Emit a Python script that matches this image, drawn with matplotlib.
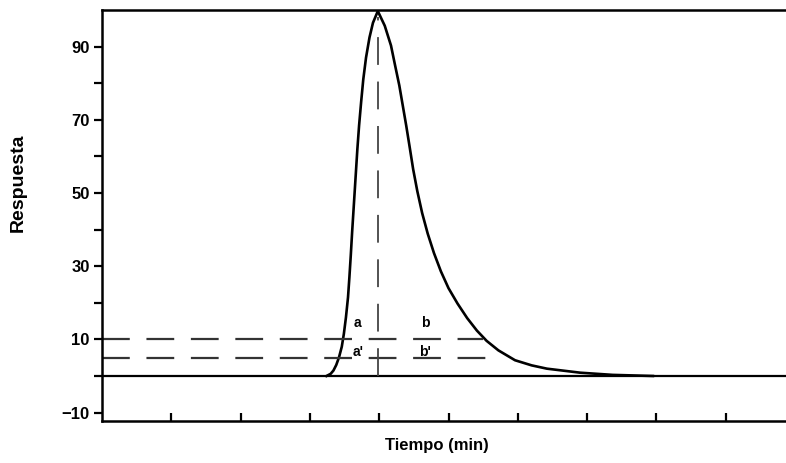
import matplotlib
matplotlib.use("Agg")
import matplotlib.pyplot as plt

plt.rcParams['font.family'] = ['Liberation Sans', 'DejaVu Sans']
plt.rcParams['font.weight'] = 'bold'
plt.rcParams['lines.scale_dashes'] = False

# peak (x in tick units, y in %)
tiempo = [3.24, 3.30, 3.34, 3.38, 3.42, 3.46, 3.49, 3.52, 3.55, 3.57, 3.59, 3.61,
          3.635, 3.66, 3.685, 3.71, 3.74, 3.77, 3.81, 3.86, 3.91, 3.98,
          4.08, 4.17, 4.23, 4.29, 4.34, 4.39, 4.44, 4.49, 4.55, 4.62, 4.70, 4.79,
          4.89, 5.00, 5.13, 5.27, 5.41, 5.55, 5.72, 5.96, 6.20, 6.42, 6.90, 7.37, 7.95]
respuesta = [0, 0.6, 1.5, 3.0, 5.1, 8.0, 11.5, 16.0, 21.5, 27.0, 33.0, 39.5,
             47.0, 54.5, 62.0, 68.5, 75.0, 81.0, 87.0, 92.5, 96.5, 99.7,
             95.7, 90.3, 84.8, 79.4, 73.9, 68.4, 62.5, 56.5, 50.5, 44.5, 38.9, 33.6,
             28.6, 24.0, 19.8, 15.8, 12.4, 9.6, 7.0, 4.3, 2.9, 2.0, 0.9, 0.3, 0]

t_max = 3.98
niveles = [10, 5]
fin_niveles = [5.50, 5.62]
etiquetas = [("a", 3.69, 14.5), ("b", 4.66, 14.5), ("a'", 3.69, 6.5), ("b'", 4.66, 6.5)]

x_ticks = [1, 2, 3, 4, 5, 6, 7, 8, 9]
y_major = [-10, 10, 30, 50, 70, 90]
y_minor = [0, 20, 40, 60, 80]

fig = plt.figure(figsize=(7.86, 4.63), dpi=100)
ax = fig.add_axes([102 / 786, 42 / 463, 684 / 786, 411 / 463])

ax.axhline(0, color='black', lw=1.6)
ax.plot(tiempo, respuesta, color='black', lw=1.9, solid_joinstyle='round')

for nivel, fin in zip(niveles, fin_niveles):
    ax.plot([0, fin], [nivel, nivel], color='#333333', lw=1.6, dashes=(20, 12))
ax.plot([t_max, t_max], [0, 98], color='#444444', lw=1.3, dashes=(20, 12))

for txt, x, y in etiquetas:
    ax.text(x, y, txt, fontsize=10, fontweight='bold', ha='center', va='center')

ax.set_xlim(0, 684 / 69.3)
ax.set_ylim(-12.3, 100)

ax.set_xticks(x_ticks)
ax.set_xticklabels([])
ax.set_yticks(y_major)
ax.set_yticks(y_minor, minor=True)
ax.tick_params(axis='x', direction='in', length=6, width=1.6)
ax.tick_params(axis='y', which='both', direction='out', length=6, width=1.6,
               labelsize=12, pad=3)
for lab in ax.get_yticklabels():
    lab.set_fontweight('bold')

ax.spines['right'].set_visible(False)
for s in ['top', 'left', 'bottom']:
    ax.spines[s].set_linewidth(1.8)

ax.set_ylabel("Respuesta", fontsize=14, fontweight='bold')
ax.yaxis.set_label_coords(-0.11, 0.58)
ax.set_xlabel("Tiempo (min)", fontsize=12, fontweight='bold')
ax.xaxis.set_label_coords(0.49, -0.042)

fig.savefig("out.png", dpi=100)
